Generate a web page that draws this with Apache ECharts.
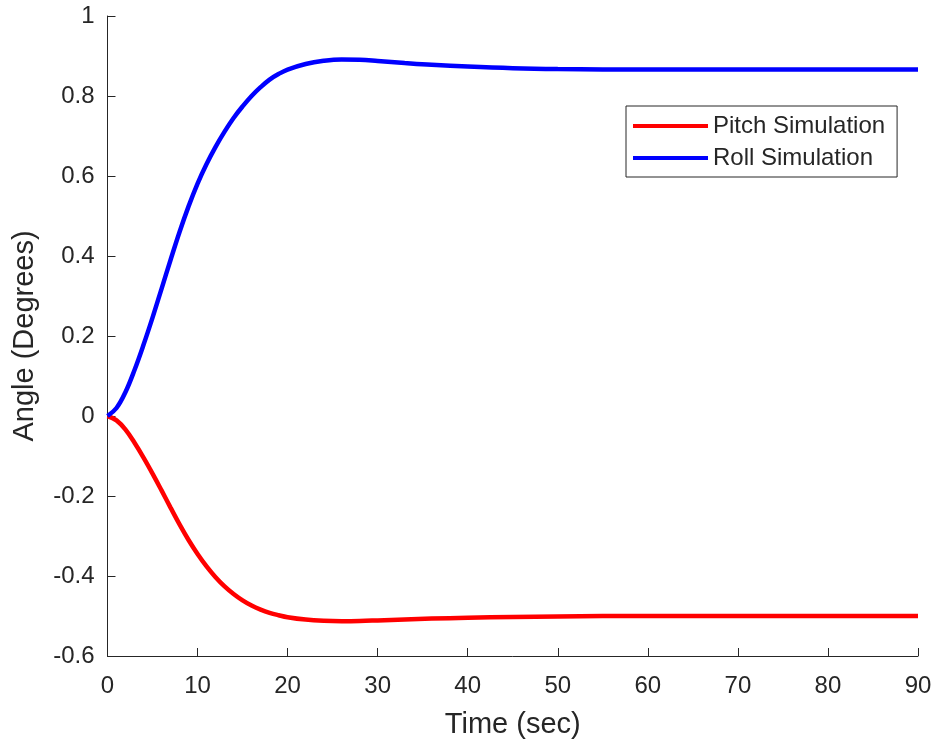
<!DOCTYPE html>
<html>
<head>
<meta charset="utf-8">
<script src="https://cdn.jsdelivr.net/npm/echarts@6/dist/echarts.min.js"></script>
<style>
html,body{margin:0;padding:0;background:#fff;}
#chart{width:938px;height:749px;}
</style>
</head>
<body>
<div id="chart"></div>
<script>
const time = [0,1,2,3,4,5,6,7,8,9,10,11,12,13,14,15,16,17,18,19,20,22,24,26,28,30,33,36,40,45,50,60,70,80,90];
const pitch = [0,-0.011,-0.034,-0.067,-0.104,-0.144,-0.186,-0.229,-0.271,-0.31,-0.345,-0.376,-0.403,-0.426,-0.445,-0.461,-0.474,-0.484,-0.492,-0.498,-0.503,-0.509,-0.512,-0.513,-0.5125,-0.511,-0.5085,-0.5065,-0.5045,-0.5025,-0.501,-0.5,-0.5,-0.5,-0.5];
const roll = [0,0.02,0.06,0.115,0.178,0.246,0.318,0.39,0.46,0.524,0.581,0.63,0.673,0.711,0.745,0.774,0.8,0.822,0.841,0.855,0.866,0.88,0.888,0.8915,0.8905,0.8875,0.8825,0.878,0.8735,0.8695,0.8675,0.866,0.866,0.866,0.866];
const seriesNames = ['Pitch Simulation','Roll Simulation'];
const xTitle = 'Time (sec)';
const yTitle = 'Angle (Degrees)';

const axisColor = '#262626';
const font = 'Liberation Sans, Arial, Helvetica, sans-serif';

const chart = echarts.init(document.getElementById('chart'), null, {renderer:'canvas'});
chart.setOption({
  animation:false,
  backgroundColor:'#ffffff',
  grid:{left:107.5, right:20, top:16, bottom:93, containLabel:false},
  legend:{
    orient:'vertical', left:626, top:106,
    padding:[4,12,3,7],
    itemGap:0, itemWidth:75, itemHeight:4,
    icon:'rect',
    borderColor:axisColor, borderWidth:1,
    backgroundColor:'#fff',
    textStyle:{fontFamily:font, fontSize:24, color:axisColor, lineHeight:32},
    data:seriesNames
  },
  xAxis:{
    type:'value', min:0, max:90, interval:10,
    name:xTitle, nameLocation:'middle', nameGap:54,
    nameTextStyle:{fontFamily:font, fontSize:29, color:axisColor},
    axisLine:{onZero:false, lineStyle:{color:axisColor, width:1}},
    axisTick:{inside:true, length:8, lineStyle:{color:axisColor}},
    axisLabel:{fontFamily:font, fontSize:24, color:axisColor, margin:18},
    splitLine:{show:false}
  },
  yAxis:{
    type:'value', min:-0.6, max:1, interval:0.2,
    name:yTitle, nameLocation:'middle', nameGap:68,
    nameTextStyle:{fontFamily:font, fontSize:29, color:axisColor},
    axisLine:{show:true, onZero:false, lineStyle:{color:axisColor, width:1}},
    axisTick:{show:true, inside:true, length:8, lineStyle:{color:axisColor}},
    axisLabel:{fontFamily:font, fontSize:24, color:axisColor, margin:13,
      formatter:v => String(+(+v).toFixed(1))},
    splitLine:{show:false}
  },
  series:[
    {name:seriesNames[0], type:'line', showSymbol:false, smooth:0.4,
     color:'#ff0000', lineStyle:{color:'#ff0000', width:4.5},
     data:time.map((t,i)=>[t,pitch[i]])},
    {name:seriesNames[1], type:'line', showSymbol:false, smooth:0.4,
     color:'#0000ff', lineStyle:{color:'#0000ff', width:4.5},
     data:time.map((t,i)=>[t,roll[i]])}
  ]
});
</script>
</body>
</html>
